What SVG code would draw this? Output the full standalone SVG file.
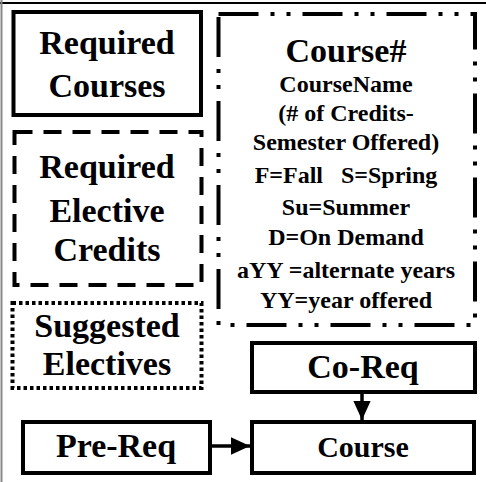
<svg xmlns="http://www.w3.org/2000/svg" width="486" height="482" viewBox="0 0 486 482">
<style>
  .t{font-family:"Liberation Serif","Times New Roman",serif;font-weight:bold;fill:#000;text-anchor:middle}
  .big{font-size:34px}
  .mid{font-size:30px}
  .sm{font-size:24px}
  .box{fill:none;stroke:#000;stroke-width:4}
  .dash{stroke-dasharray:18 11}
  .dot{stroke-dasharray:3.5 3}
  .dashdot{stroke-dasharray:40 12 4 12 4 12}
  .conn{stroke:#000;stroke-width:3.5;fill:none}
</style>
<defs>
  <marker id="arr" markerWidth="6" markerHeight="5" refX="5.5" refY="2.5" orient="auto" markerUnits="strokeWidth">
    <path d="M0,0 L5.5,2.5 L0,5 Z" fill="#000"/>
  </marker>
</defs>
<rect x="0" y="0" width="486" height="482" fill="#fff"/>
<g id="frame">
  <line x1="0" y1="3" x2="486" y2="3" stroke="#000" stroke-width="2"/>
  <line x1="1.5" y1="0" x2="1.5" y2="482" stroke="#888" stroke-width="2"/>
</g>
<g id="required-courses">
  <rect class="box" x="13.5" y="12" width="187.5" height="103"/>
  <text class="t big" x="107" y="54">Required</text>
  <text class="t big" x="107" y="97">Courses</text>
</g>
<g id="required-elective">
  <rect class="box dash" x="14.5" y="132" width="187" height="153"/>
  <text class="t big" x="107" y="178">Required</text>
  <text class="t big" x="107" y="222">Elective</text>
  <text class="t big" x="107" y="261">Credits</text>
</g>
<g id="suggested">
  <rect class="box dot" x="12.5" y="303" width="189" height="85"/>
  <text class="t big" x="107" y="337">Suggested</text>
  <text class="t big" x="107" y="375">Electives</text>
</g>
<g id="legend">
  <rect class="box dashdot" x="218.5" y="14" width="256.5" height="311"/>
  <text class="t big" x="346" y="62">Course#</text>
  <text class="t sm" x="346" y="92">CourseName</text>
  <text class="t sm" x="346" y="121">(# of Credits-</text>
  <text class="t sm" x="346" y="150">Semester Offered)</text>
  <text class="t sm" x="346" y="183" xml:space="preserve">F=Fall   S=Spring</text>
  <text class="t sm" x="346" y="215">Su=Summer</text>
  <text class="t sm" x="346" y="245">D=On Demand</text>
  <text class="t sm" x="346" y="278">aYY =alternate years</text>
  <text class="t sm" x="346" y="308">YY=year offered</text>
</g>
<g id="co-req">
  <rect class="box" x="252" y="343" width="223" height="49"/>
  <text class="t big" x="363" y="378">Co-Req</text>
</g>
<g id="pre-req">
  <rect class="box" x="23" y="422" width="187" height="51"/>
  <text class="t big" x="116" y="457">Pre-Req</text>
</g>
<g id="course">
  <rect class="box" x="252" y="422" width="222" height="51"/>
  <text class="t mid" x="363" y="457">Course</text>
</g>
<g id="connectors">
  <line class="conn" x1="212" y1="446" x2="250" y2="446" marker-end="url(#arr)"/>
  <line class="conn" x1="362" y1="394" x2="362" y2="420" marker-end="url(#arr)"/>
</g>
</svg>
